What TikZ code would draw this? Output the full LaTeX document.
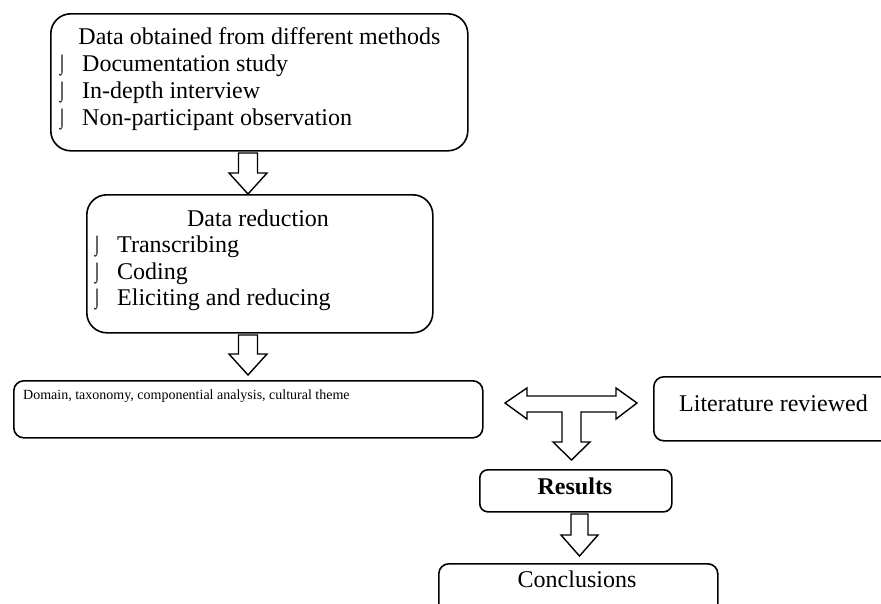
\documentclass[tikz,border=0pt]{standalone}
\usepackage{fontspec}
\setmainfont{Liberation Serif}
\newcommand{\bulglyph}{\resizebox*{10pt}{21pt}{\fontsize{24}{28}\selectfont ⌡}}
\begin{document}
\begin{tikzpicture}[x=1pt,y=-1pt,
  box/.style={draw, line width=1.6pt, rounded corners=#1, anchor=north west, inner sep=0pt},
  blk/.style={draw, line width=1.4pt, fill=white, line join=miter},
  lbl/.style={inner sep=0pt, anchor=base, font=\fontsize{24}{28}\selectfont},
  item/.style={inner sep=0pt, anchor=base west, font=\fontsize{24}{28}\selectfont},
  small/.style={inner sep=0pt, anchor=base west, font=\fontsize{14}{16}\selectfont},
  bul/.style={inner sep=0pt, anchor=south}]
\path[use as bounding box, clip] (0,0) rectangle (881,603);
\fill[white] (0,0) rectangle (881,603);

% boxes
\node[box=20pt, minimum width=417pt, minimum height=137pt] (b1) at (50,13) {};
\node[box=20pt, minimum width=346pt, minimum height=138pt] (b2) at (86,194) {};
\node[box=10pt, minimum width=469pt, minimum height=57pt] (b3) at (13,380) {};
\node[box=10pt, minimum width=260pt, minimum height=64pt] (lit) at (653,376) {};
\node[box=8pt, minimum width=192pt, minimum height=42pt] (res) at (479,469) {};
\node[box=10pt, minimum width=279pt, minimum height=80pt] (conc) at (438,563) {};

% box 1 text
\node[lbl] (t1) at (259.5,44) {Data obtained from different methods};
\node[bul] (k11) at (62,76) {\bulglyph};
\node[bul] (k12) at (62,103) {\bulglyph};
\node[bul] (k13) at (62,130) {\bulglyph};
\node[item] (i11) at (82,71) {Documentation study};
\node[item] (i12) at (82,98) {In-depth interview};
\node[item] (i13) at (82,125) {Non-participant observation};

% box 2 text
\node[lbl] (t2) at (258,226) {Data reduction};
\node[bul] (k21) at (97,257.5) {\bulglyph};
\node[bul] (k22) at (97,284) {\bulglyph};
\node[bul] (k23) at (97,310.5) {\bulglyph};
\node[item] (i21) at (117,252.5) {Transcribing};
\node[item] (i22) at (117,279) {Coding};
\node[item] (i23) at (117,305.5) {Eliciting and reducing};

% other texts
\node[small] (t3) at (23,399) {Domain, taxonomy, componential analysis, cultural theme};
\node[item] (t4) at (679,411) {Literature reviewed};
\node[lbl, font=\fontsize{24}{28}\selectfont\bfseries] (t5) at (575,494) {Results};
\node[lbl] (t6) at (577,587) {Conclusions};

% block arrows
\draw[blk] (238.5,153) -- (257.5,153) -- (257.5,173) -- (267,173) -- (248,194)
  -- (229,173) -- (238.5,173) -- cycle;
\draw[blk] (238.5,335) -- (257.5,335) -- (257.5,354) -- (267,354) -- (248,375)
  -- (229,354) -- (238.5,354) -- cycle;
\draw[blk] (571,514) -- (588,514) -- (588,535) -- (598,535) -- (579.5,556)
  -- (561,535) -- (571,535) -- cycle;
\draw[blk] (505,403) -- (527,388) -- (527,396) -- (616,396) -- (616,388)
  -- (637,403) -- (616,419) -- (616,412) -- (581,412) -- (581,442)
  -- (590,442) -- (571.5,460) -- (553,442) -- (562,442) -- (562,412)
  -- (527,412) -- (527,419) -- cycle;
\end{tikzpicture}
\end{document}
